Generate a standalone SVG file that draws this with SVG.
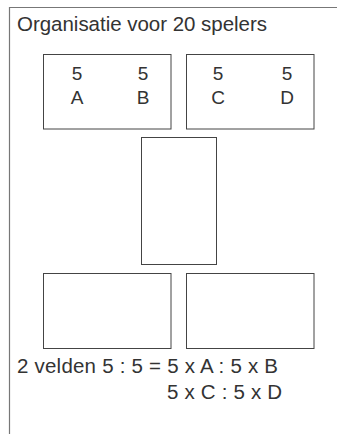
<svg xmlns="http://www.w3.org/2000/svg" width="337" height="434" viewBox="0 0 337 434">
<style>
.frame{fill:none;stroke:#777;stroke-width:1.2}
.field{fill:#fff;stroke:#444;stroke-width:1}
text{font-family:"Liberation Sans",Arial,sans-serif;font-size:20.5px;fill:#333}
.mid{text-anchor:middle;font-size:19px}
</style>
<rect width="337" height="434" fill="#fff"/>
<path class="frame" d="M9.5,434 V7.5 H337"/>
<text x="17" y="31" textLength="250">Organisatie voor 20 spelers</text>
<g id="field-AB">
<rect class="field" x="43.5" y="54.5" width="127.5" height="74.5"/>
<text class="mid" x="77" y="80">5</text>
<text class="mid" x="77" y="104">A</text>
<text class="mid" x="143" y="80">5</text>
<text class="mid" x="143" y="104">B</text>
</g>
<g id="field-CD">
<rect class="field" x="186.5" y="54.5" width="127.5" height="74.5"/>
<text class="mid" x="218" y="80">5</text>
<text class="mid" x="218" y="104">C</text>
<text class="mid" x="287" y="80">5</text>
<text class="mid" x="287" y="104">D</text>
</g>
<g id="field-center">
<rect class="field" x="141.5" y="137.5" width="75" height="127"/>
</g>
<g id="field-bottom-left">
<rect class="field" x="43.5" y="273.5" width="127.5" height="75"/>
</g>
<g id="field-bottom-right">
<rect class="field" x="186.5" y="273.5" width="127.5" height="75"/>
</g>
<g id="connectors"></g>
<text x="17" y="373" textLength="261">2 velden 5 : 5 = 5 x A : 5 x B</text>
<text x="167" y="399" textLength="115">5 x C : 5 x D</text>
</svg>
